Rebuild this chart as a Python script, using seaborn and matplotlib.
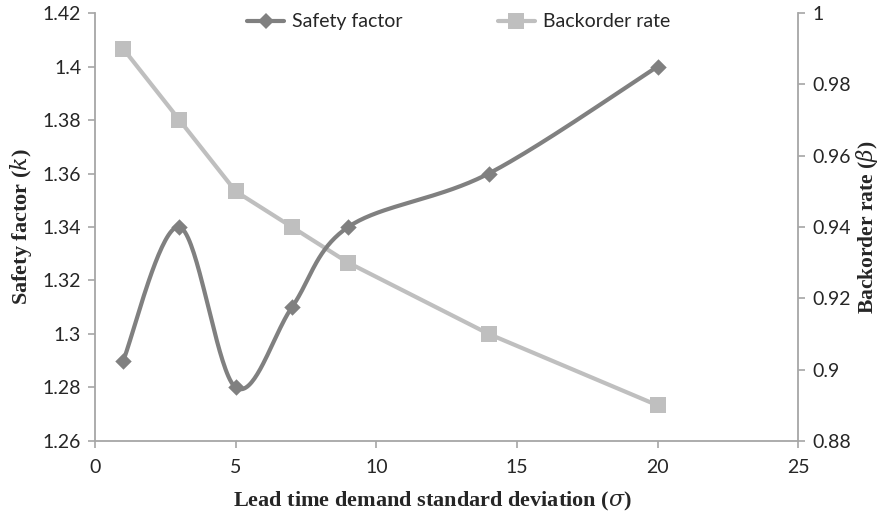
import numpy as np
import pandas as pd
import matplotlib
matplotlib.use("Agg")
import matplotlib.pyplot as plt
from matplotlib.lines import Line2D
import seaborn as sns

# ---- data ----
sigma = [1, 3, 5, 7, 9, 14, 20]
safety_factor = [1.29, 1.34, 1.28, 1.31, 1.34, 1.36, 1.40]
backorder_rate = [0.99, 0.97, 0.95, 0.94, 0.93, 0.91, 0.89]
x_ticks = [0, 5, 10, 15, 20, 25]
left_ticks = [1.26, 1.28, 1.3, 1.32, 1.34, 1.36, 1.38, 1.4, 1.42]
right_ticks = [0.88, 0.9, 0.92, 0.94, 0.96, 0.98, 1]

sns.set_style("white")
plt.rcParams['font.family'] = ['Lato', 'DejaVu Sans']
plt.rcParams['mathtext.fontset'] = 'dejavuserif'

C_SF = "#808080"
C_BR = "#bfbfbf"
C_AX = "#a6a6a6"
C_TXT = "#262626"
SERIF = ["Liberation Serif", "DejaVu Serif"]


def smooth_curve(xs, ys, n=40):
    """Excel-like smoothed line (Bezier segments through the points)."""
    P = np.column_stack([xs, ys]).astype(float)
    m = len(P)
    out = []
    for i in range(m - 1):
        p0 = P[i - 1] if i > 0 else P[i]
        p1 = P[i]
        p2 = P[i + 1]
        p3 = P[i + 2] if i + 2 < m else P[i + 1]
        c1 = p1 + (p2 - p0) / 6.0
        c2 = p2 - (p3 - p1) / 6.0
        t = np.linspace(0, 1, n)[:, None]
        seg = ((1 - t) ** 3) * p1 + 3 * ((1 - t) ** 2) * t * c1 + 3 * (1 - t) * t ** 2 * c2 + t ** 3 * p2
        out.append(seg if i == 0 else seg[1:])
    S = np.vstack(out)
    return S[:, 0], S[:, 1]


sx, sy = smooth_curve(sigma, safety_factor)
df_smooth = pd.DataFrame({"x": sx, "y": sy})
df_sf = pd.DataFrame({"x": sigma, "y": safety_factor})
df_br = pd.DataFrame({"x": sigma, "y": backorder_rate})

fig = plt.figure(figsize=(8.8, 5.21), dpi=100)
ax = fig.add_axes([0.108, 0.1536, 0.799, 0.8214])
ax2 = ax.twinx()

# backorder rate on secondary axis
sns.lineplot(data=df_br, x="x", y="y", ax=ax2, color=C_BR, linewidth=3.0,
             marker="s", markersize=11.5, markeredgewidth=0, sort=False)

# safety factor on primary axis (smoothed)
sns.lineplot(data=df_smooth, x="x", y="y", ax=ax, color=C_SF, linewidth=3.0, sort=False)
sns.scatterplot(data=df_sf, x="x", y="y", ax=ax, color=C_SF, marker="D", s=70,
                linewidth=0, zorder=5)

ax.set_zorder(ax2.get_zorder() + 1)
ax.patch.set_visible(False)

ax.set_xlim(0, 25)
ax.set_ylim(1.26, 1.42)
ax2.set_ylim(0.88, 1.0)
ax.set_xticks(x_ticks)
ax.set_xticklabels([str(v) for v in x_ticks])
ax.set_yticks(left_ticks)
ax.set_yticklabels([f"{v:g}" for v in left_ticks])
ax2.set_yticks(right_ticks)
ax2.set_yticklabels([f"{v:g}" for v in right_ticks])

for a in (ax, ax2):
    for side in ("left", "right", "bottom", "top"):
        a.spines[side].set_visible(False)
ax.spines["left"].set_visible(True)
ax.spines["bottom"].set_visible(True)
ax2.spines["right"].set_visible(True)
for a in (ax, ax2):
    for s in a.spines.values():
        s.set_color(C_AX)
        s.set_linewidth(1.3)
    a.tick_params(axis="both", which="major", direction="out", length=5, width=1.2,
                  color=C_AX, labelsize=14, labelcolor=C_TXT, pad=5)
ax.tick_params(axis="y", left=True, right=False)
ax.tick_params(axis="x", bottom=True, pad=8)
ax2.tick_params(axis="y", right=True, left=False)

ax.set_xlabel(r"Lead time demand standard deviation ($\sigma$)", fontsize=16,
              fontweight="bold", family=SERIF, color=C_TXT)
ax.xaxis.set_label_coords(0.48, -0.115)
ax.set_ylabel(r"Safety factor ($k$)", fontsize=16, fontweight="bold",
              family=SERIF, color=C_TXT, labelpad=6)
ax2.set_ylabel(r"Backorder rate ($\beta$)", fontsize=15.5, fontweight="bold",
               family=SERIF, color=C_TXT, labelpad=2)

handles = [
    Line2D([0], [0], color=C_SF, lw=3.0, marker="D", markersize=8.5, markeredgewidth=0),
    Line2D([0], [0], color=C_BR, lw=3.0, marker="s", markersize=11.5, markeredgewidth=0),
]
leg = ax.legend(handles, ["Safety factor", "Backorder rate"], loc="upper center",
                bbox_to_anchor=(0.517, 1.04), ncol=2, frameon=False, fontsize=14,
                handlelength=1.9, columnspacing=4.9, handletextpad=0.4)
for t in leg.get_texts():
    t.set_color(C_TXT)

fig.savefig("out.png", dpi=100)
